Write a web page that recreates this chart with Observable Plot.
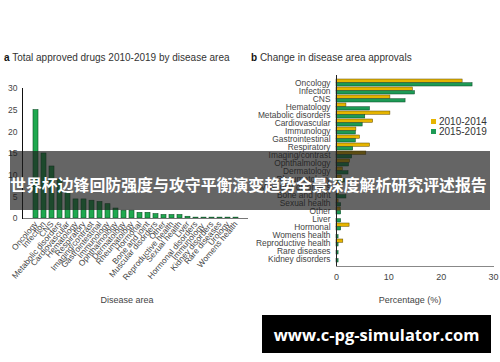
<!DOCTYPE html>
<html>
<head>
<meta charset="utf-8">
<script src="https://cdn.jsdelivr.net/npm/d3@7"></script>
<script src="https://cdn.jsdelivr.net/npm/@observablehq/plot@0.6"></script>
<style>
  html, body { margin: 0; padding: 0; background: #fff; }
  #page { position: relative; width: 500px; height: 362px; overflow: hidden; background: #fff;
          font-family: "Liberation Sans", Arial, sans-serif; color: #333; }
  .abs { position: absolute; }
  .title { font-size: 10px; color: #333; white-space: nowrap; }
  .title b { color: #111; }
  .axlabel { font-size: 9px; color: #444; white-space: nowrap; }
  #legend { font-size: 10px; color: #333; line-height: 10px; }
  #legend .sw { display: inline-block; width: 5px; height: 5px; margin-right: 3px; vertical-align: 1px; }
  #band { left: 10px; top: 151px; width: 480px; height: 59px; background: rgba(28,28,28,0.68);
          color: #fff; font-family: "Noto Sans CJK SC", sans-serif; font-weight: 700; font-size: 15.9px;
          line-height: 59px; white-space: nowrap; padding-top: 4px; box-sizing: border-box; }
  #site { left: 262px; top: 315px; width: 229px; height: 38px; background: #000; color: #fff;
          font-family: "Open Sans", sans-serif; font-weight: 700; font-size: 16.5px; text-align: center;
          line-height: 40px; white-space: nowrap; }
</style>
</head>
<body>
<div id="page">
  <div class="abs title" style="left:4px; top:52px;"><b>a</b> Total approved drugs 2010-2019 by disease area</div>
  <div class="abs title" style="left:251px; top:52px;"><b>b</b> Change in disease area approvals</div>
  <div id="chartA" class="abs" style="left:0px; top:60px;"></div>
  <div id="chartB" class="abs" style="left:250px; top:60px;"></div>
  <div class="abs axlabel" style="left:127px; top:295px; transform:translateX(-50%);">Disease area</div>
  <div class="abs axlabel" style="left:410px; top:295px; transform:translateX(-50%);">Percentage (%)</div>
  <div id="legend" class="abs" style="left:431px; top:117px;"></div>
  <div id="band" class="abs">世界杯边锋回防强度与攻守平衡演变趋势全景深度解析研究评述报告</div>
  <div id="site" class="abs">www.c-pg-simulator.com</div>
</div>
<script>
// ---- Panel a data ----
const areasA = ["Oncology","Infection","CNS","Metabolic disorders","Cardiovascular","Hematology",
  "Respiratory","Imaging/contrast","Gastrointestinal","Immunology","Ophthalmology","Dermatology",
  "Rheumatology","Hormonal","Bone and joint","Muscular disorders","Other","Reproductive health",
  "Sexual health","Liver","Hormonal disorders","Immunology ","Kidney disorders","Rare diseases",
  "Urology","Womens health"];
const totalA = [25,15,12,9,6,4.4,4.4,4.1,3.8,3.3,2.3,1.8,1.8,1.3,1.3,1.0,0.8,0.8,0.8,0.4,0.2,0.2,0.2,0.2,0.2,0.2];
const ticksA = [0,5,10,15,20,25,30];

// ---- Panel b data ----
const areasB = ["Oncology","Infection","CNS","Hematology","Metabolic disorders","Cardiovascular",
  "Immunology","Gastrointestinal","Respiratory","Imaging/contrast","Ophthalmology","Dermatology",
  "Rheumatology","Muscular disorders","Bone and joint","Sexual health","Other","Liver","Hormonal",
  "Womens health","Reproductive health","Rare diseases","Kidney disorders"];
const v2010 = [24.1,14.6,10.3,1.9,10.3,7.0,3.8,4.5,6.4,5.7,2.6,1.2,1.0,0.6,0.5,0.4,0.8,0,2.5,0,1.3,0,0];
const v2015 = [26.0,15.0,13.2,6.4,5.5,5.0,3.7,3.7,3.2,3.0,2.4,2.3,1.6,0.8,1.9,0.9,0.9,0.9,0.9,0.4,0.4,0.4,0.4];
const ticksB = [0,10,20,30];
const seriesB = ["2010-2014","2015-2019"];
const colorsB = ["#e6b400","#1d9a55"];

// ---- Panel a chart ----
const dataA = areasA.map((a,i)=>({area:a, value: totalA[i]}));
const chartA = Plot.plot({
  width: 250, height: 250,
  marginLeft: 22, marginRight: 2, marginTop: 28, marginBottom: 92,
  style: {fontFamily: "Liberation Sans, Arial, sans-serif", fontSize: "8px", color: "#444", background: "transparent", overflow: "visible"},
  x: {domain: areasA, padding: 0.4},
  y: {domain: [0,30]},
  marks: [
    Plot.barY(dataA, {x:"area", y:"value", fill:"#1fa84f", stroke:"#0d5026", strokeWidth:0.6}),
    Plot.axisY({ticks: ticksA, tickSize: 0, tickPadding: 5, label: null, fontSize: 8.5}),
    Plot.axisX({tickSize: 0, tickPadding: 4, tickRotate: -50, label: null, fontSize: 8.3}),
    Plot.ruleY([0], {stroke:"#777", strokeWidth:1}),
    Plot.frame({anchor:"left", stroke:"#111", strokeWidth:1})
  ]
});
document.getElementById("chartA").appendChild(chartA);

// ---- Panel b chart ----
const rowsY = areasB.map((a,i)=>({area:a, value:v2010[i]})).filter(d=>d.value>0);
const rowsG = areasB.map((a,i)=>({area:a, value:v2015[i]})).filter(d=>d.value>0);
const chartB = Plot.plot({
  width: 250, height: 250,
  marginLeft: 86, marginRight: 7, marginTop: 15, marginBottom: 44,
  style: {fontFamily: "Liberation Sans, Arial, sans-serif", fontSize: "8.3px", color: "#444", background: "transparent", overflow: "visible"},
  y: {domain: areasB, padding: 0.1},
  x: {domain: [0,30]},
  marks: [
    Plot.barX(rowsY, {y:"area", x:"value", fill:colorsB[0], stroke:"#5a4800", strokeWidth:0.5, insetBottom:3.7, insetTop:0}),
    Plot.barX(rowsG, {y:"area", x:"value", fill:colorsB[1], stroke:"#0b4424", strokeWidth:0.5, insetTop:3.7, insetBottom:0}),
    Plot.axisY({tickSize: 0, tickPadding: 6, label: null, fontSize: 8.4}),
    Plot.axisX({ticks: ticksB, tickSize: 0, tickPadding: 7, label: null, fontSize: 9}),
    Plot.frame({anchor:"bottom", stroke:"#888", strokeWidth:1}),
    Plot.ruleX([0], {stroke:"#222", strokeWidth:1})
  ]
});
document.getElementById("chartB").appendChild(chartB);

// ---- legend ----
const leg = document.getElementById("legend");
seriesB.forEach((s,i)=>{
  const row = document.createElement("div");
  row.innerHTML = `<span class="sw" style="background:${colorsB[i]}"></span>${s}`;
  leg.appendChild(row);
});
</script>
</body>
</html>
